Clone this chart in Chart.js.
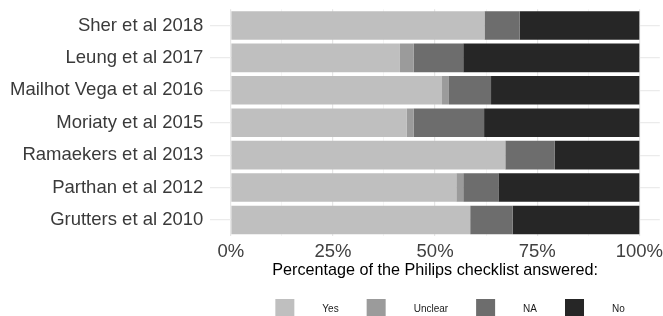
<!DOCTYPE html>
<html>
<head>
<meta charset="utf-8">
<script src="https://cdn.jsdelivr.net/npm/chart.js@4.4.1/dist/chart.umd.min.js"></script>
<style>
  html, body { margin: 0; padding: 0; background: #fff; }
  #wrap { width: 663px; height: 316px; }
</style>
</head>
<body>
<div id="wrap"><canvas id="chart"></canvas></div>
<script>
const studies = ['Sher et al 2018', 'Leung et al 2017', 'Mailhot Vega et al 2016', 'Moriaty et al 2015',
  'Ramaekers et al 2013', 'Parthan et al 2012', 'Grutters et al 2010']
const yesValues = [62.1, 41.4, 51.7, 43.1, 67.2, 55.2, 58.6]
const unclearValues = [0, 3.4, 1.7, 1.7, 0, 1.7, 0]
const naValues = [8.6, 12.1, 10.3, 17.2, 12.1, 8.6, 10.4]
const noValues = [29.3, 43.1, 36.3, 38.0, 20.7, 34.5, 31.0]
const xTickValues = [0, 25, 50, 75, 100]
const xTickLabels = ['0%', '25%', '50%', '75%', '100%']
const xMinorValues = [12.5, 37.5, 62.5, 87.5]

const FONT = '"Liberation Sans", Arial, sans-serif'

// ggplot-style legend under the plot: box, wide gap, label
const bottomLegend = {
    id: 'bottomLegend',
    afterDraw(chart) {
        const ctx = chart.ctx
        const box = 19, gap = 28
        ctx.save()
        ctx.font = '10px ' + FONT
        const items = chart.data.datasets.map(ds => ({
            text: ds.label, color: ds.backgroundColor, w: ctx.measureText(ds.label).width
        }))
        const total = items.reduce((s, it) => s + box + gap + it.w, 0) + gap * (items.length - 1)
        const area = chart.chartArea
        let x = (area.left + area.right) / 2 + 15 - total / 2
        const yc = chart.height - 7.5
        ctx.textBaseline = 'middle'
        items.forEach(it => {
            ctx.fillStyle = it.color
            ctx.fillRect(x, yc - box / 2, box, box)
            x += box + gap
            ctx.fillStyle = '#1a1a1a'
            ctx.fillText(it.text, x, yc + 1)
            x += it.w + gap
        })
        ctx.restore()
    }
}

const makeSet = (label, data, color) => ({
    label: label,
    data: data,
    backgroundColor: color,
    borderWidth: 0,
    barPercentage: 0.88,
    categoryPercentage: 1
})

new Chart(document.getElementById('chart'), {
    type: 'bar',
    data: {
        labels: studies,
        datasets: [
            makeSet('Yes', yesValues, '#bfbfbf'),
            makeSet('Unclear', unclearValues, '#9b9b9b'),
            makeSet('NA', naValues, '#6d6d6d'),
            makeSet('No', noValues, '#262626')
        ]
    },
    options: {
        indexAxis: 'y',
        responsive: true,
        maintainAspectRatio: false,
        animation: false,
        layout: { padding: { top: 0, left: 10, right: 0, bottom: 37 } },
        plugins: {
            legend: { display: false },
            tooltip: { enabled: false }
        },
        scales: {
            x: {
                type: 'linear',
                stacked: true,
                min: -5,
                max: 105,
                afterBuildTicks: scale => {
                    scale.ticks = xTickValues.concat(xMinorValues).sort((a, b) => a - b).map(v => ({ value: v }))
                },
                border: { display: false },
                grid: {
                    drawTicks: true,
                    tickLength: 5,
                    tickColor: 'rgba(0,0,0,0)',
                    color: ctx => xTickValues.includes(ctx.tick.value) ? '#e6e6e6' : '#f1f1f1',
                    lineWidth: ctx => xTickValues.includes(ctx.tick.value) ? 1.2 : 0.8
                },
                ticks: {
                    padding: 0,
                    autoSkip: false,
                    maxRotation: 0,
                    color: '#404040',
                    font: { family: FONT, size: 18.5, lineHeight: 1.17 },
                    callback: v => {
                        const i = xTickValues.indexOf(v)
                        return i >= 0 ? xTickLabels[i] : ''
                    }
                },
                title: {
                    display: true,
                    text: 'Percentage of the Philips checklist answered:',
                    color: '#000',
                    padding: { top: 0, bottom: 0 },
                    font: { family: FONT, size: 16.2, lineHeight: 1 }
                }
            },
            y: {
                stacked: true,
                border: { display: false },
                grid: {
                    offset: false,
                    drawTicks: true,
                    tickLength: 7,
                    tickColor: 'rgba(0,0,0,0)',
                    color: '#ebebeb',
                    lineWidth: 1.2
                },
                ticks: {
                    padding: 0,
                    color: '#3a3a3a',
                    font: { family: FONT, size: 18.5, lineHeight: 1 }
                }
            }
        }
    },
    plugins: [bottomLegend]
})
</script>
</body>
</html>
